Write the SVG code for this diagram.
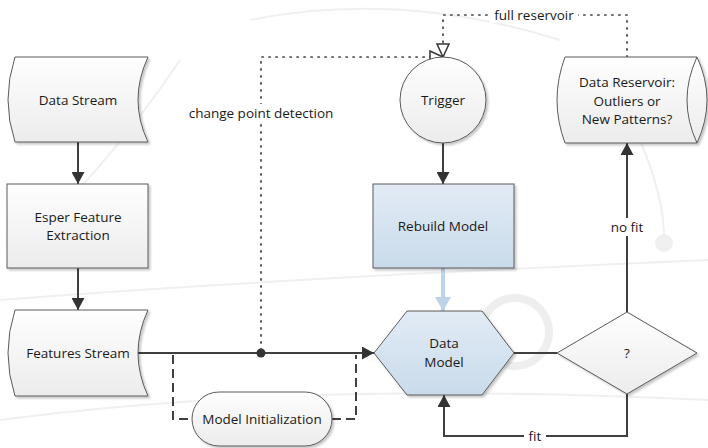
<svg xmlns="http://www.w3.org/2000/svg" width="708" height="448" viewBox="0 0 708 448">
<style>
.t{font-family:"Open Sans","Liberation Sans",sans-serif;font-size:13.5px;fill:#1a1a1a;text-anchor:middle;dominant-baseline:central}
.sh{stroke:#5a5a5a;stroke-width:1}
.g{fill:url(#gg)}
.b{fill:url(#gb)}
.c{fill:none;stroke:#404040;stroke-width:2}
.dot{fill:none;stroke:#404040;stroke-width:1.7;stroke-dasharray:1.2 5.8;stroke-linecap:round}
.dash{fill:none;stroke:#404040;stroke-width:2;stroke-dasharray:9 5}
.wm{fill:none;stroke:#f0f0f0;stroke-width:2}
</style>
<defs>
<linearGradient id="gg" x1="0" y1="0" x2="0" y2="1"><stop offset="0" stop-color="#fefefe"/><stop offset="1" stop-color="#ececec"/></linearGradient>
<linearGradient id="gb" x1="0" y1="0" x2="0" y2="1"><stop offset="0" stop-color="#e2ebf5"/><stop offset="1" stop-color="#c9dbeb"/></linearGradient>
<filter id="sd" x="-10%" y="-10%" width="130%" height="130%"><feDropShadow dx="2" dy="2" stdDeviation="1.2" flood-color="#000" flood-opacity="0.22"/></filter>
<marker id="ar" markerUnits="userSpaceOnUse" markerWidth="13" markerHeight="13" refX="12" refY="6.5" orient="auto"><path d="M0,0 L12,6.5 L0,13 z" fill="#333"/></marker>
<marker id="ab" markerUnits="userSpaceOnUse" markerWidth="16" markerHeight="16" refX="14" refY="8" orient="auto"><path d="M0,0 L14,8 L0,16 z" fill="#bcd3e9"/></marker>
<marker id="ao" markerUnits="userSpaceOnUse" markerWidth="16" markerHeight="16" refX="14" refY="7" orient="auto"><path d="M1,1 L14,7 L1,13 z" fill="#fff" stroke="#333" stroke-width="1.5"/></marker>
</defs>
<rect width="708" height="448" fill="#fff"/>
<g id="watermark">
<circle cx="515" cy="332" r="34" fill="none" stroke="#eeeeee" stroke-width="8"/>
<path class="wm" d="M0,300 Q250,280 708,260"/>
<path class="wm" d="M0,420 Q300,380 708,400"/>
<path class="wm" d="M250,20 Q400,-10 560,40"/>
<path class="wm" d="M40,230 Q120,150 180,60"/>
<path class="wm" d="M640,140 Q665,200 664,240"/>
<circle cx="664" cy="243" r="9" fill="#f0f0f0"/>
</g>
<g id="connectors">
<path class="c" d="M78,142 L78,184" marker-end="url(#ar)"/>
<path class="c" d="M78,268 L78,310" marker-end="url(#ar)"/>
<path class="c" d="M138,353 L374,353" marker-end="url(#ar)"/>
<circle cx="261" cy="353" r="4.5" fill="#333"/>
<path class="dot" d="M261,350 L261,57 L443,57" marker-end="url(#ao)"/>
<path class="dot" d="M627,57 L627,15 L443,15 L443,57" marker-end="url(#ao)"/>
<path class="dash" d="M173,355 L173,419 L192,419"/>
<path class="dash" d="M332,419 L356,419 L356,355"/>
<path class="c" d="M443,143 L443,184" marker-end="url(#ar)"/>
<path fill="none" stroke="#bcd3e9" stroke-width="4" d="M443,268 L443,311" marker-end="url(#ab)"/>
<path class="c" d="M514,353 L557,353"/>
<path class="c" d="M627,312 L627,143" marker-end="url(#ar)"/>
<path class="c" d="M627,394 L627,436 L444,436 L444,395" marker-end="url(#ar)"/>
<rect x="184" y="104" width="154" height="18" fill="#fff"/>
<text class="t" x="261" y="113">change point detection</text>
<rect x="490" y="7" width="88" height="16" fill="#fff"/>
<text class="t" x="534" y="15">full reservoir</text>
<rect x="607" y="218" width="40" height="18" fill="#fff"/>
<text class="t" x="627" y="227">no fit</text>
<rect x="524" y="428" width="22" height="16" fill="#fff"/>
<text class="t" x="535" y="436">fit</text>
</g>
<g id="data-stream">
<path class="g sh" filter="url(#sd)" d="M15,57 L148,57 Q128,100 148,142 L15,142 Q1,100 15,57 z"/>
<text class="t" x="78" y="100">Data Stream</text>
</g>
<g id="esper">
<rect class="g sh" filter="url(#sd)" x="7" y="184" width="141" height="84"/>
<text class="t" x="78" y="217">Esper Feature</text>
<text class="t" x="78" y="235">Extraction</text>
</g>
<g id="features-stream">
<path class="g sh" filter="url(#sd)" d="M15,310 L148,310 Q128,353 148,396 L15,396 Q1,353 15,310 z"/>
<text class="t" x="78" y="353">Features Stream</text>
</g>
<g id="model-init">
<rect class="g sh" filter="url(#sd)" x="192" y="392" width="140" height="54" rx="27"/>
<text class="t" x="262" y="419">Model Initialization</text>
</g>
<g id="trigger">
<circle class="g sh" filter="url(#sd)" cx="443" cy="100" r="43"/>
<text class="t" x="443" y="100">Trigger</text>
</g>
<g id="rebuild">
<rect class="b sh" filter="url(#sd)" x="373" y="184" width="141" height="84"/>
<text class="t" x="443" y="226">Rebuild Model</text>
</g>
<g id="data-model">
<path class="b sh" filter="url(#sd)" d="M374,353 L407,311 L482,311 L514,353 L482,395 L407,395 z"/>
<text class="t" x="444" y="343">Data</text>
<text class="t" x="444" y="362">Model</text>
</g>
<g id="decision">
<path class="g sh" filter="url(#sd)" d="M557,353 L627,312 L697,353 L627,394 z"/>
<text class="t" x="627" y="353">?</text>
</g>
<g id="reservoir">
<path class="g sh" filter="url(#sd)" d="M565,57 L697,57 Q717,100 697,143 L565,143 Q549,100 565,57 z"/>
<path fill="none" class="sh" d="M697,57 Q677,100 697,143"/>
<text class="t" x="627" y="82">Data Reservoir:</text>
<text class="t" x="627" y="100.5">Outliers or</text>
<text class="t" x="627" y="119">New Patterns?</text>
</g>
</svg>
